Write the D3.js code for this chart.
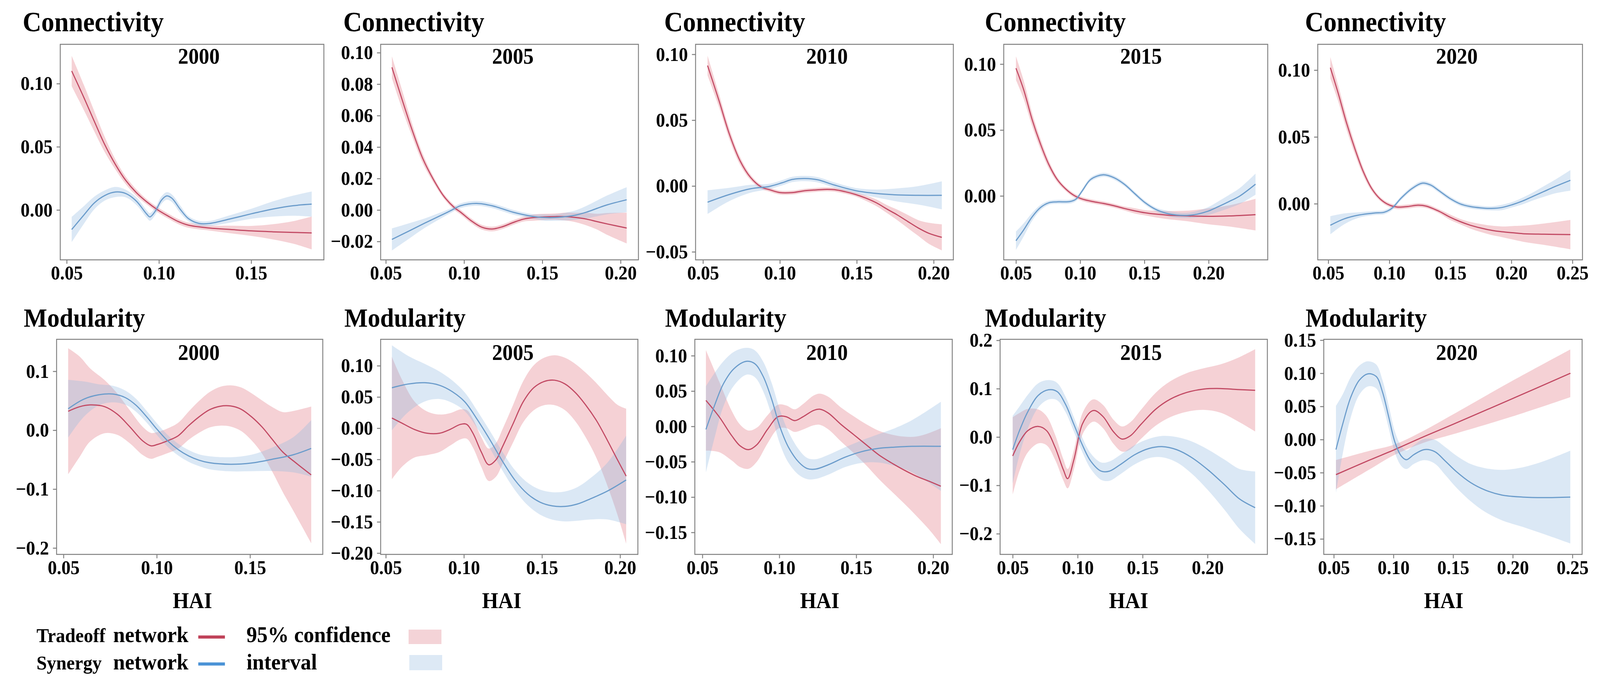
<!DOCTYPE html>
<html><head><meta charset="utf-8">
<script src="https://cdn.jsdelivr.net/npm/d3@7"></script>
<style>
html,body{margin:0;padding:0;background:#fff;overflow:hidden;width:100%;height:100%}
svg{display:block;width:100vw;height:100vh}
text{font-family:"Liberation Serif","Times New Roman",serif;font-weight:bold;fill:#000}
</style>
</head><body>
<svg id="c" viewBox="0 0 4382 1763" preserveAspectRatio="none"></svg>
<script>
// ---------------- DATA ----------------
// each row: [HAI, fitted value, half-width of 95% CI]
const years = ["2000", "2005", "2010", "2015", "2020"];
const metrics = ["Connectivity", "Modularity"];
const seriesNames = ["Tradeoff network", "Synergy network"];

const conn2000Tradeoff = [[0.0527,0.110,0.012],[0.0593,0.089,0.010],[0.065,0.070,0.008],[0.0707,0.0515,0.006],[0.0764,0.036,0.004],[0.082,0.0234,0.003],[0.0877,0.0138,0.0025],[0.0934,0.0064,0.002],[0.099,0.0004,0.002],[0.1048,-0.0047,0.002],[0.1105,-0.0092,0.002],[0.1161,-0.0121,0.002],[0.1275,-0.0143,0.002],[0.1389,-0.0155,0.003],[0.1502,-0.0166,0.004],[0.1616,-0.0173,0.006],[0.173,-0.0178,0.009],[0.1828,-0.0182,0.013]];
const conn2000Synergy = [[0.0527,-0.0155,0.010],[0.0593,-0.004,0.007],[0.065,0.0056,0.005],[0.0707,0.0115,0.004],[0.0764,0.0142,0.004],[0.082,0.013,0.003],[0.0877,0.0071,0.003],[0.0934,-0.0033,0.003],[0.0951,-0.0055,0.003],[0.098,-0.001,0.003],[0.1014,0.0078,0.003],[0.1042,0.0111,0.003],[0.107,0.0093,0.003],[0.1116,0.0004,0.003],[0.1161,-0.007,0.002],[0.1218,-0.0107,0.002],[0.1275,-0.0107,0.002],[0.1389,-0.007,0.003],[0.1502,-0.003,0.004],[0.1616,0.0007,0.006],[0.173,0.0034,0.008],[0.1828,0.0046,0.010]];

const conn2005Tradeoff = [[0.0539,0.0907,0.007],[0.0603,0.0705,0.006],[0.067,0.0503,0.004],[0.0737,0.0325,0.003],[0.0804,0.0194,0.002],[0.0871,0.0087,0.0015],[0.0938,0.0015,0.0015],[0.0978,-0.0014,0.0015],[0.1045,-0.0068,0.0015],[0.1112,-0.0109,0.0015],[0.1179,-0.0121,0.0015],[0.1246,-0.0106,0.0015],[0.1313,-0.008,0.0015],[0.138,-0.0058,0.0015],[0.1447,-0.0048,0.002],[0.1514,-0.0044,0.002],[0.1581,-0.0042,0.002],[0.1648,-0.0042,0.0025],[0.1715,-0.0048,0.003],[0.1782,-0.0058,0.004],[0.1849,-0.0074,0.005],[0.1916,-0.0089,0.007],[0.2039,-0.0115,0.0098]];
const conn2005Synergy = [[0.0539,-0.0187,0.007],[0.0643,-0.0136,0.005],[0.075,-0.0083,0.003],[0.0844,-0.0038,0.002],[0.0911,-0.0006,0.0015],[0.0978,0.0027,0.0015],[0.1079,0.0042,0.0015],[0.1179,0.0027,0.0015],[0.1313,-0.0014,0.0015],[0.1447,-0.0042,0.0015],[0.1514,-0.0048,0.002],[0.1581,-0.0048,0.002],[0.1648,-0.0042,0.0025],[0.1715,-0.0032,0.003],[0.1782,-0.0014,0.004],[0.1849,0.001,0.005],[0.1916,0.0033,0.006],[0.2039,0.0065,0.008]];

const conn2010Tradeoff = [[0.053,0.0915,0.0075],[0.0605,0.0646,0.005],[0.0673,0.039,0.004],[0.0741,0.0192,0.003],[0.081,0.0064,0.002],[0.0878,-0.0007,0.0015],[0.0932,-0.0028,0.0015],[0.100,-0.005,0.0015],[0.1082,-0.005,0.0015],[0.115,-0.0038,0.0015],[0.1219,-0.0031,0.0015],[0.1287,-0.0026,0.0015],[0.1355,-0.0028,0.0015],[0.1423,-0.0043,0.0015],[0.1491,-0.0064,0.0015],[0.1559,-0.0092,0.002],[0.1628,-0.0128,0.0025],[0.1696,-0.0175,0.003],[0.1764,-0.022,0.004],[0.1832,-0.027,0.005],[0.19,-0.0319,0.006],[0.1968,-0.0359,0.008],[0.2053,-0.039,0.0099]];
const conn2010Synergy = [[0.053,-0.0123,0.009],[0.0673,-0.0064,0.005],[0.081,-0.0021,0.003],[0.0932,-0.0003,0.002],[0.1014,0.0024,0.002],[0.1082,0.005,0.002],[0.1164,0.0057,0.002],[0.1246,0.0047,0.002],[0.1355,0.0007,0.002],[0.1491,-0.0035,0.002],[0.1628,-0.0057,0.003],[0.1764,-0.0068,0.005],[0.19,-0.0071,0.007],[0.2053,-0.0071,0.0106]];

const conn2015Tradeoff = [[0.05,0.0969,0.009],[0.056,0.0806,0.007],[0.0626,0.0579,0.005],[0.0691,0.0394,0.004],[0.0756,0.0238,0.003],[0.0821,0.0125,0.002],[0.0886,0.0054,0.0015],[0.0952,0.0004,0.0015],[0.1017,-0.0024,0.0015],[0.1098,-0.0043,0.0015],[0.118,-0.0057,0.0015],[0.1261,-0.0074,0.0015],[0.1343,-0.0095,0.0015],[0.1424,-0.0113,0.002],[0.1506,-0.0128,0.002],[0.1587,-0.0138,0.0025],[0.1669,-0.0145,0.003],[0.1832,-0.0152,0.004],[0.1995,-0.0155,0.006],[0.2158,-0.0152,0.008],[0.2365,-0.0142,0.012]];
const conn2015Synergy = [[0.05,-0.034,0.007],[0.056,-0.0258,0.005],[0.0626,-0.0159,0.003],[0.0691,-0.0088,0.002],[0.0756,-0.0052,0.0015],[0.0821,-0.0045,0.0015],[0.0919,-0.0043,0.0015],[0.0968,-0.0024,0.0015],[0.1017,0.004,0.0015],[0.1082,0.0125,0.0015],[0.118,0.016,0.0015],[0.1261,0.0139,0.0015],[0.1343,0.0089,0.0015],[0.1424,0.0018,0.0015],[0.1506,-0.0052,0.0015],[0.1587,-0.0102,0.0015],[0.1669,-0.0131,0.002],[0.175,-0.0145,0.002],[0.1832,-0.0148,0.002],[0.1913,-0.0138,0.0025],[0.1995,-0.0116,0.003],[0.2076,-0.0081,0.004],[0.2158,-0.0043,0.005],[0.2239,-0.0003,0.006],[0.2365,0.0089,0.008]];

const conn2020Tradeoff = [[0.0517,0.1018,0.008],[0.0582,0.0825,0.006],[0.0651,0.0601,0.005],[0.072,0.0406,0.004],[0.0788,0.0238,0.003],[0.0857,0.0112,0.002],[0.0926,0.0035,0.0015],[0.0994,-0.0007,0.0015],[0.1063,-0.0025,0.0015],[0.1149,-0.0021,0.0015],[0.1235,-0.0011,0.0015],[0.1303,-0.0018,0.0015],[0.1406,-0.0056,0.0015],[0.1492,-0.0098,0.002],[0.1578,-0.0133,0.002],[0.1664,-0.0161,0.0025],[0.175,-0.0182,0.003],[0.1836,-0.0199,0.0035],[0.1922,-0.021,0.004],[0.2007,-0.0217,0.005],[0.2093,-0.0224,0.006],[0.2265,-0.0228,0.008],[0.2483,-0.0231,0.011]];
const conn2020Synergy = [[0.0517,-0.0161,0.0068],[0.0634,-0.0112,0.004],[0.0754,-0.0084,0.002],[0.0874,-0.007,0.0015],[0.096,-0.0063,0.0015],[0.102,-0.0035,0.0015],[0.1097,0.0042,0.0015],[0.1183,0.0112,0.0015],[0.1269,0.0154,0.0015],[0.1338,0.014,0.0015],[0.1406,0.0098,0.0015],[0.1492,0.0042,0.0015],[0.1578,0.0,0.0015],[0.1664,-0.0021,0.0015],[0.175,-0.0031,0.0015],[0.1836,-0.0035,0.0015],[0.1922,-0.0028,0.002],[0.2007,-0.0007,0.002],[0.2093,0.0021,0.0025],[0.2179,0.0056,0.003],[0.2265,0.0091,0.004],[0.2351,0.0126,0.005],[0.2483,0.0175,0.0077]];

const modu2000Tradeoff = [[0.0525,0.0321,0.107],[0.0587,0.0399,0.085],[0.0643,0.0429,0.062],[0.0721,0.0399,0.045],[0.0789,0.027,0.035],[0.0856,0.0056,0.028],[0.0924,-0.018,0.024],[0.0969,-0.0266,0.022],[0.1002,-0.0244,0.021],[0.1058,-0.018,0.021],[0.1115,-0.0094,0.022],[0.1171,0.0077,0.024],[0.1227,0.0227,0.027],[0.1283,0.0347,0.03],[0.134,0.0407,0.033],[0.1396,0.0411,0.035],[0.1452,0.0356,0.037],[0.1508,0.0227,0.04],[0.1564,0.0056,0.045],[0.162,-0.0159,0.055],[0.1676,-0.0373,0.068],[0.1733,-0.0523,0.085],[0.1828,-0.0759,0.116]];
const modu2000Synergy = [[0.0525,0.0364,0.049],[0.0609,0.0527,0.03],[0.0688,0.06,0.018],[0.0766,0.0613,0.014],[0.0834,0.0549,0.012],[0.089,0.042,0.011],[0.0946,0.0227,0.01],[0.1002,0.0013,0.01],[0.1058,-0.018,0.01],[0.1115,-0.033,0.01],[0.1171,-0.0437,0.01],[0.1227,-0.051,0.01],[0.1283,-0.0553,0.011],[0.1396,-0.0579,0.012],[0.1508,-0.0557,0.014],[0.162,-0.0493,0.02],[0.1733,-0.0416,0.03],[0.1828,-0.0309,0.048]];

const modu2005Tradeoff = [[0.0539,0.0162,0.098],[0.0603,0.0081,0.07],[0.0683,-0.002,0.045],[0.0764,-0.0081,0.035],[0.0844,-0.0081,0.03],[0.0911,-0.002,0.026],[0.0978,0.0061,0.024],[0.1018,0.0061,0.023],[0.1058,-0.0081,0.023],[0.1112,-0.0384,0.024],[0.1159,-0.0586,0.026],[0.1206,-0.0505,0.027],[0.1246,-0.0303,0.028],[0.1313,0.0061,0.03],[0.138,0.0424,0.033],[0.1447,0.0647,0.036],[0.1514,0.0748,0.038],[0.1581,0.0768,0.04],[0.1648,0.0707,0.042],[0.1715,0.0566,0.046],[0.1782,0.0364,0.052],[0.1849,0.0121,0.06],[0.1916,-0.0182,0.072],[0.1983,-0.0505,0.088],[0.2039,-0.0768,0.108]];
const modu2005Synergy = [[0.0539,0.0647,0.068],[0.0643,0.0707,0.045],[0.075,0.0728,0.03],[0.0844,0.0687,0.022],[0.0925,0.0586,0.018],[0.1005,0.0424,0.015],[0.1085,0.0141,0.014],[0.1166,-0.0182,0.014],[0.1246,-0.0525,0.015],[0.1326,-0.0829,0.016],[0.1407,-0.1051,0.018],[0.1487,-0.1184,0.02],[0.1567,-0.1245,0.022],[0.1648,-0.1253,0.024],[0.1728,-0.1213,0.027],[0.1809,-0.1132,0.033],[0.1916,-0.1011,0.045],[0.2039,-0.0829,0.071]];

const modu2010Tradeoff = [[0.0523,0.0368,0.071],[0.0609,0.0136,0.05],[0.0691,-0.0132,0.035],[0.0745,-0.0275,0.03],[0.08,-0.0329,0.027],[0.0855,-0.0257,0.024],[0.0923,-0.0043,0.02],[0.0991,0.0136,0.017],[0.1045,0.0136,0.016],[0.11,0.0082,0.016],[0.1154,0.0136,0.018],[0.1222,0.0225,0.021],[0.1263,0.0243,0.022],[0.1318,0.0189,0.023],[0.14,0.0029,0.024],[0.1482,-0.0114,0.026],[0.1563,-0.0257,0.029],[0.1645,-0.04,0.034],[0.1727,-0.0514,0.04],[0.1808,-0.0614,0.047],[0.189,-0.0704,0.056],[0.1972,-0.0775,0.068],[0.205,-0.0846,0.082]];
const modu2010Synergy = [[0.0523,-0.0043,0.061],[0.0582,0.0314,0.045],[0.0636,0.06,0.032],[0.0704,0.0814,0.024],[0.0786,0.0921,0.019],[0.0841,0.0886,0.019],[0.0895,0.0707,0.021],[0.095,0.0386,0.023],[0.1004,-0.0007,0.024],[0.1059,-0.0293,0.022],[0.1127,-0.0507,0.018],[0.1181,-0.0596,0.015],[0.1236,-0.0604,0.014],[0.1318,-0.0543,0.014],[0.1427,-0.0436,0.014],[0.1536,-0.0357,0.016],[0.1645,-0.0311,0.02],[0.1754,-0.0293,0.027],[0.1863,-0.0282,0.037],[0.205,-0.0282,0.063]];

const modu2015Tradeoff = [[0.05,-0.0392,0.08],[0.0552,-0.0104,0.06],[0.0616,0.0131,0.045],[0.0697,0.0219,0.035],[0.0761,0.0131,0.03],[0.0826,-0.0209,0.026],[0.089,-0.0679,0.022],[0.0923,-0.0862,0.02],[0.0971,-0.047,0.02],[0.1035,0.0261,0.022],[0.11,0.0522,0.023],[0.1132,0.0548,0.023],[0.1197,0.0418,0.024],[0.1277,0.0104,0.025],[0.1342,-0.0042,0.026],[0.1406,0.0026,0.028],[0.1487,0.0261,0.03],[0.16,0.0574,0.034],[0.1713,0.0783,0.037],[0.1842,0.0924,0.04],[0.1971,0.0992,0.043],[0.21,0.1003,0.05],[0.2229,0.0982,0.065],[0.2366,0.0966,0.085]];
const modu2015Synergy = [[0.05,-0.0261,0.07],[0.0552,0.0131,0.05],[0.0616,0.0522,0.035],[0.0697,0.0862,0.025],[0.0777,0.0977,0.02],[0.0842,0.094,0.018],[0.0906,0.0679,0.016],[0.0971,0.0261,0.015],[0.1035,-0.0157,0.015],[0.11,-0.0496,0.016],[0.118,-0.0705,0.018],[0.1245,-0.0705,0.02],[0.1326,-0.0574,0.02],[0.1439,-0.0366,0.02],[0.1552,-0.0235,0.02],[0.1648,-0.0198,0.022],[0.1761,-0.0261,0.026],[0.1874,-0.0418,0.033],[0.2003,-0.0679,0.042],[0.2132,-0.0992,0.052],[0.2245,-0.128,0.062],[0.2366,-0.1462,0.075]];

const modu2020Tradeoff = [[0.0518,-0.053,0.022],[0.08,-0.031,0.014],[0.10,-0.016,0.008],[0.125,0.004,0.009],[0.15,0.023,0.015],[0.20,0.062,0.027],[0.2482,0.100,0.036]];
const modu2020Synergy = [[0.0518,-0.0152,0.066],[0.0574,0.0229,0.045],[0.0644,0.0648,0.03],[0.0714,0.0896,0.022],[0.0784,0.0991,0.019],[0.0855,0.0953,0.018],[0.0907,0.0724,0.018],[0.096,0.0343,0.017],[0.1012,-0.0038,0.016],[0.1065,-0.0248,0.015],[0.1109,-0.0305,0.014],[0.117,-0.0229,0.014],[0.1258,-0.0152,0.016],[0.1346,-0.0183,0.018],[0.1434,-0.0324,0.021],[0.1522,-0.0476,0.024],[0.1645,-0.0648,0.028],[0.1768,-0.0762,0.033],[0.1908,-0.0838,0.038],[0.2084,-0.0869,0.045],[0.226,-0.0877,0.055],[0.2482,-0.0869,0.07]];

// axis limits and tick labels
const connXLim = [[0.0465,0.1894],[0.0467,0.2114],[0.0452,0.2128],[0.0405,0.246],[0.0414,0.2582]];
const moduXLim = [[0.0463,0.189],[0.0467,0.2114],[0.0451,0.2124],[0.0403,0.246],[0.0416,0.2581]];
const connYLim = [[-0.0395,0.1311],[-0.0317,0.1053],[-0.0561,0.1076],[-0.0485,0.115],[-0.042,0.1193]];
const moduYLim = [[-0.2109,0.1543],[-0.2021,0.1423],[-0.1811,0.1232],[-0.2428,0.2021],[-0.1734,0.1513]];
const xTicks = [[0.05,0.10,0.15],[0.05,0.10,0.15,0.20],[0.05,0.10,0.15,0.20],[0.05,0.10,0.15,0.20],[0.05,0.10,0.15,0.20,0.25]];
const connYTicks = [[0,0.05,0.10],[-0.02,0,0.02,0.04,0.06,0.08,0.10],[-0.05,0,0.05,0.10],[0,0.05,0.10],[0,0.05,0.10]];
const moduYTicks = [[-0.2,-0.1,0,0.1],[-0.20,-0.15,-0.10,-0.05,0,0.05,0.10],[-0.15,-0.10,-0.05,0,0.05,0.10],[-0.2,-0.1,0,0.1,0.2],[-0.15,-0.10,-0.05,0,0.05,0.10,0.15]];
const connYFmt = [".2f",".2f",".2f",".2f",".2f"];
const moduYFmt = [".1f",".2f",".2f",".1f",".2f"];

const connTradeoff = [conn2000Tradeoff, conn2005Tradeoff, conn2010Tradeoff, conn2015Tradeoff, conn2020Tradeoff];
const connSynergy = [conn2000Synergy, conn2005Synergy, conn2010Synergy, conn2015Synergy, conn2020Synergy];
const moduTradeoff = [modu2000Tradeoff, modu2005Tradeoff, modu2010Tradeoff, modu2015Tradeoff, modu2020Tradeoff];
const moduSynergy = [modu2000Synergy, modu2005Synergy, modu2010Synergy, modu2015Synergy, modu2020Synergy];

// ---------------- LAYOUT ----------------
const layout = {
  rows: [
    {y0:113.4, y1:664.9, titleY:80, yearY:162.6, titleSize:71,
     x:[[165,887],[1042.5,1748.5],[1905,2611],[2749,3472],[3609,4334]],
     titleX:[62,940,1819,2697,3574]},
    {y0:868.2, y1:1418.6, titleY:836, yearY:921, titleSize:68,
     x:[[155,884],[1042.5,1747],[1903,2608],[2739,3471],[3625.5,4333]],
     titleX:[65,943,1821.5,2697.5,3575.6]}
  ],
  yearCX:[544.6,1404.6,2265,3125,3990],
  haiCX:[527,1374,2245,3091,3954], haiY:1556
};
const style = {
  red:"#c24a64", blue:"#6b9ccb",
  redBand:"#e8919c", blueBand:"#8fb8e0", bandOpacity:[0.42,0.32],
  legRed:"#c0435a", legBlue:"#4b93d6", patchRed:"#f4d3d7", patchBlue:"#dde9f5",
  frame:"#808080"
};

const svg = d3.select("#c");
const rowsData = [
  {metric:metrics[0], xlim:connXLim, ylim:connYLim, yt:connYTicks, yf:connYFmt, tr:connTradeoff, sy:connSynergy},
  {metric:metrics[1], xlim:moduXLim, ylim:moduYLim, yt:moduYTicks, yf:moduYFmt, tr:moduTradeoff, sy:moduSynergy}
];

rowsData.forEach((rd, r) => {
  const L = layout.rows[r];
  years.forEach((yr, c) => {
    const [x0, x1] = L.x[c];
    const x = d3.scaleLinear().domain(rd.xlim[c]).range([x0, x1]);
    const y = d3.scaleLinear().domain(rd.ylim[c]).range([L.y1, L.y0]);
    const g = svg.append("g");
    const clipId = `clip${r}_${c}`;
    g.append("clipPath").attr("id", clipId).append("rect")
      .attr("x", x0).attr("y", L.y0).attr("width", x1 - x0).attr("height", L.y1 - L.y0);
    const plot = g.append("g").attr("clip-path", `url(#${clipId})`);
    const area = d3.area().curve(d3.curveCatmullRom.alpha(0.5))
      .x(d => x(d[0])).y0(d => y(d[1] - d[2])).y1(d => y(d[1] + d[2]));
    const line = d3.line().curve(d3.curveCatmullRom.alpha(0.5))
      .x(d => x(d[0])).y(d => y(d[1]));
    plot.append("path").datum(rd.tr[c]).attr("d", area)
      .attr("fill", style.redBand).attr("fill-opacity", style.bandOpacity[0]);
    plot.append("path").datum(rd.sy[c]).attr("d", area)
      .attr("fill", style.blueBand).attr("fill-opacity", style.bandOpacity[1]);
    plot.append("path").datum(rd.tr[c]).attr("d", line)
      .attr("fill", "none").attr("stroke", style.red).attr("stroke-width", 3);
    plot.append("path").datum(rd.sy[c]).attr("d", line)
      .attr("fill", "none").attr("stroke", style.blue).attr("stroke-width", 3);

    // axes
    const ax = g.append("g").attr("transform", `translate(0,${L.y1})`)
      .call(d3.axisBottom(x).tickValues(xTicks[c]).tickFormat(d3.format(".2f")).tickSize(10).tickPadding(5));
    const ay = g.append("g").attr("transform", `translate(${x0},0)`)
      .call(d3.axisLeft(y).tickValues(rd.yt[c]).tickFormat(d3.format(rd.yf[c])).tickSize(10).tickPadding(11));
    [ax, ay].forEach(a => {
      a.select(".domain").remove();
      a.selectAll(".tick line").attr("stroke", style.frame).attr("stroke-width", 2.5);
      a.selectAll(".tick text").attr("font-size", 50).attr("fill", "#000")
        .style("font-family", '"Liberation Serif","Times New Roman",serif').style("font-weight", "bold");
    });
    g.append("rect").attr("x", x0).attr("y", L.y0).attr("width", x1 - x0).attr("height", L.y1 - L.y0)
      .attr("fill", "none").attr("stroke", style.frame).attr("stroke-width", 2.5);

    g.append("text").attr("x", L.titleX[c]).attr("y", L.titleY).attr("font-size", L.titleSize).text(rd.metric);
    g.append("text").attr("x", layout.yearCX[c]).attr("y", L.yearY).attr("font-size", 57)
      .attr("text-anchor", "middle").text(yr);
    if (r === 1) {
      g.append("text").attr("x", layout.haiCX[c]).attr("y", layout.haiY).attr("font-size", 57)
        .attr("text-anchor", "middle").text("HAI");
    }
  });
});

// legend
const leg = svg.append("g");
const legRows = [
  {name:seriesNames[0].split(" ")[0], color:style.legRed, base:1643, lineY:1630, right:"95% confidence", patch:style.patchRed, py:1611, ph:37, px:1119},
  {name:seriesNames[1].split(" ")[0], color:style.legBlue, base:1713, lineY:1699, right:"interval", patch:style.patchBlue, py:1676, ph:39, px:1121}
];
legRows.forEach(d => {
  leg.append("text").attr("x", 100).attr("y", d.base).attr("font-size", 51).text(d.name);
  leg.append("text").attr("x", 310).attr("y", d.base).attr("font-size", 58).text("network");
  leg.append("line").attr("x1", 543).attr("x2", 616).attr("y1", d.lineY).attr("y2", d.lineY)
    .attr("stroke", d.color).attr("stroke-width", 8);
  leg.append("text").attr("x", 675).attr("y", d.base).attr("font-size", 58).text(d.right);
  leg.append("rect").attr("x", d.px).attr("y", d.py).attr("width", 90).attr("height", d.ph).attr("fill", d.patch);
});
</script>
</body></html>
